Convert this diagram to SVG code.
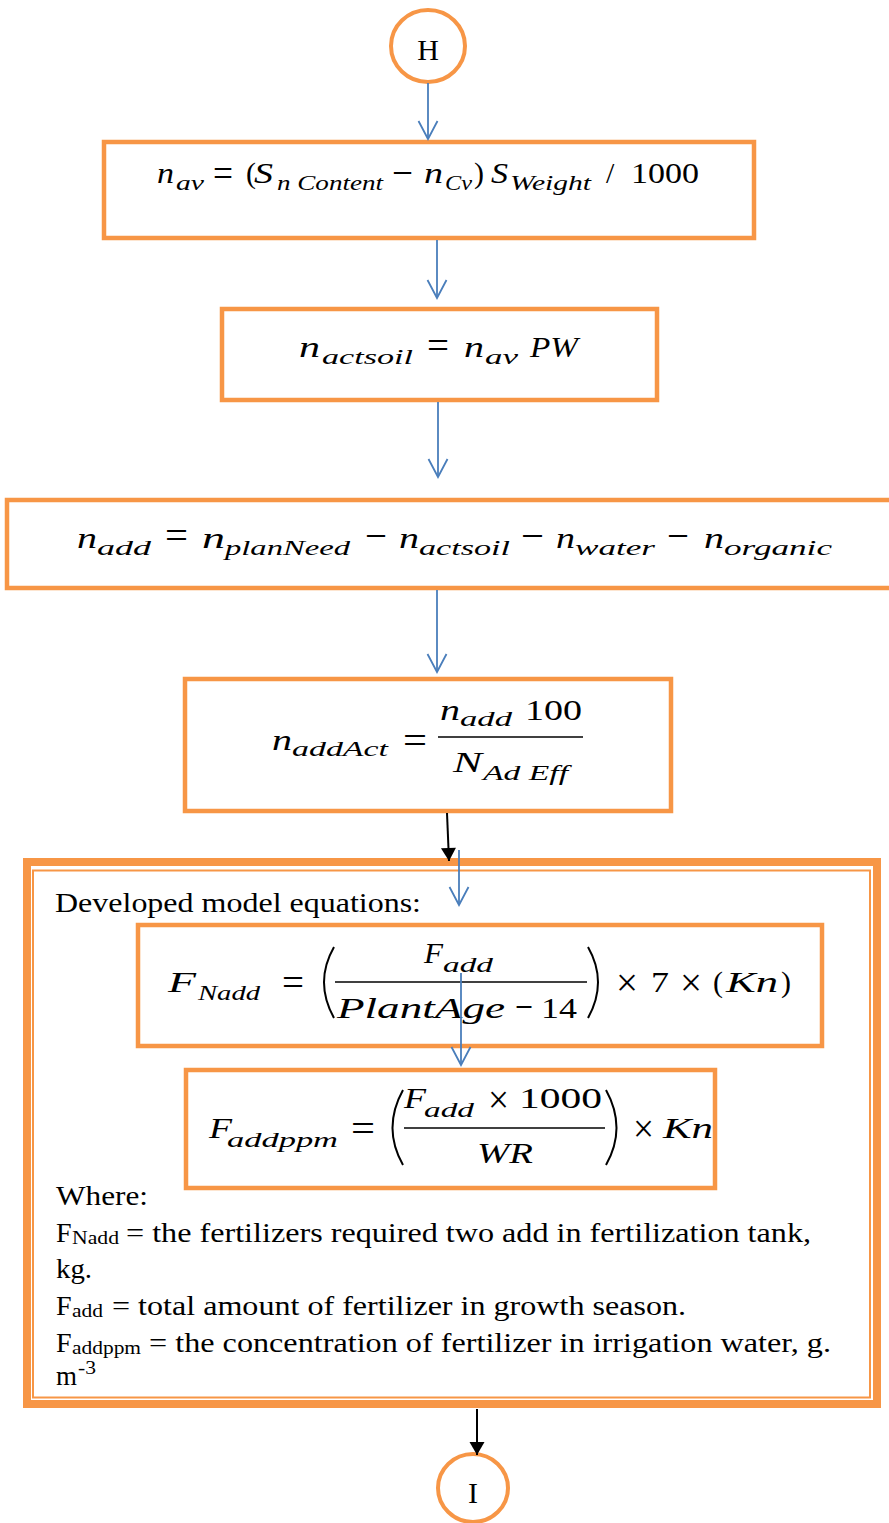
<svg xmlns="http://www.w3.org/2000/svg" width="889" height="1523" viewBox="0 0 889 1523">
  <style>
    .box { fill: #ffffff; stroke: #F79646; stroke-width: 4.5; }
    .term { fill: #ffffff; stroke: #F79646; stroke-width: 4; }
    .m { font-family: 'Liberation Serif', 'Times New Roman', Tinos, Times, serif; font-style: italic; font-size: 30px; fill: #000; }
    .ms { font-family: 'Liberation Serif', 'Times New Roman', Tinos, Times, serif; font-style: italic; font-size: 21px; fill: #000; }
    .u { font-family: 'Liberation Serif', 'Times New Roman', Tinos, Times, serif; font-size: 30px; fill: #000; }
    .op { font-family: 'Liberation Serif', 'Times New Roman', Tinos, Times, serif; font-size: 40px; fill: #000; }
    .t { font-family: 'Liberation Serif', 'Times New Roman', Tinos, Times, serif; font-size: 28px; fill: #000; }
    .ts { font-family: 'Liberation Serif', 'Times New Roman', Tinos, Times, serif; font-size: 18px; fill: #000; }
    .bar { stroke: #000; stroke-width: 1.5; fill: none; }
    .paren { stroke: #000; stroke-width: 2; fill: none; }
    .flow { stroke: #4A7EBB; stroke-width: 1.8; fill: none; marker-end: url(#open); }
    .link { stroke: #000; stroke-width: 2; fill: none; marker-end: url(#solid); }
  </style>
  <defs>
    <marker id="open" markerUnits="userSpaceOnUse" markerWidth="40" markerHeight="40" refX="0" refY="0" orient="auto" overflow="visible">
      <path d="M -18 -9.5 L 0 0 L -18 9.5" fill="none" stroke="#4A7EBB" stroke-width="1.8"/>
    </marker>
    <marker id="solid" markerUnits="userSpaceOnUse" markerWidth="40" markerHeight="40" refX="0" refY="0" orient="auto" overflow="visible">
      <path d="M -13 -7.5 L 0 0 L -13 7.5 Z" fill="#000"/>
    </marker>
  </defs>

  <!-- connector H -->
  <g id="node-H">
    <ellipse class="term" cx="428" cy="46" rx="37" ry="36"/>
    <text class="u" x="428" y="60" text-anchor="middle">H</text>
  </g>

  <!-- available nitrogen -->
  <g id="node-nav">
    <rect class="box" x="104" y="142" width="650" height="96"/>
    <text class="m" x="157" y="183" textLength="17" lengthAdjust="spacingAndGlyphs">n</text>
    <text class="ms" x="176" y="190" textLength="28" lengthAdjust="spacingAndGlyphs">av</text>
    <text class="op" x="213" y="187" textLength="20" lengthAdjust="spacingAndGlyphs">=</text>
    <text class="u" x="246" y="183">(</text>
    <text class="m" x="254" y="183" textLength="19" lengthAdjust="spacingAndGlyphs">S</text>
    <text class="ms" x="277" y="190" textLength="106" lengthAdjust="spacingAndGlyphs">n Content</text>
    <text class="op" x="392" y="186" textLength="21" lengthAdjust="spacingAndGlyphs">−</text>
    <text class="m" x="424" y="183" textLength="19" lengthAdjust="spacingAndGlyphs">n</text>
    <text class="ms" x="445" y="190" textLength="27" lengthAdjust="spacingAndGlyphs">Cv</text>
    <text class="u" x="474" y="183">)</text>
    <text class="m" x="491" y="183" textLength="17" lengthAdjust="spacingAndGlyphs">S</text>
    <text class="ms" x="510" y="190" textLength="81" lengthAdjust="spacingAndGlyphs">Weight</text>
    <text class="u" x="606" y="183">/</text>
    <text class="u" x="631" y="183" textLength="68" lengthAdjust="spacingAndGlyphs">1000</text>
  </g>

  <!-- actual soil nitrogen -->
  <g id="node-nactsoil">
    <rect class="box" x="222" y="309" width="435" height="91"/>
    <text class="m" x="299" y="357" textLength="21" lengthAdjust="spacingAndGlyphs">n</text>
    <text class="ms" x="322" y="364" textLength="91" lengthAdjust="spacingAndGlyphs">actsoil</text>
    <text class="op" x="427" y="359" textLength="22" lengthAdjust="spacingAndGlyphs">=</text>
    <text class="m" x="464" y="357" textLength="20" lengthAdjust="spacingAndGlyphs">n</text>
    <text class="ms" x="485" y="364" textLength="33" lengthAdjust="spacingAndGlyphs">av</text>
    <text class="m" x="530" y="357" textLength="48" lengthAdjust="spacingAndGlyphs">PW</text>
  </g>

  <!-- nitrogen to add -->
  <g id="node-nadd">
    <rect class="box" x="7" y="500" width="890" height="88"/>
    <text class="m" x="77" y="548" textLength="20" lengthAdjust="spacingAndGlyphs">n</text>
    <text class="ms" x="97" y="555" textLength="54" lengthAdjust="spacingAndGlyphs">add</text>
    <text class="op" x="165" y="549" textLength="23" lengthAdjust="spacingAndGlyphs">=</text>
    <text class="m" x="202" y="548" textLength="23" lengthAdjust="spacingAndGlyphs">n</text>
    <text class="ms" x="225" y="555" textLength="125" lengthAdjust="spacingAndGlyphs">planNeed</text>
    <text class="op" x="365" y="549" textLength="22" lengthAdjust="spacingAndGlyphs">−</text>
    <text class="m" x="399" y="548" textLength="20" lengthAdjust="spacingAndGlyphs">n</text>
    <text class="ms" x="419" y="555" textLength="91" lengthAdjust="spacingAndGlyphs">actsoil</text>
    <text class="op" x="521" y="549" textLength="23" lengthAdjust="spacingAndGlyphs">−</text>
    <text class="m" x="556" y="548" textLength="19" lengthAdjust="spacingAndGlyphs">n</text>
    <text class="ms" x="575" y="555" textLength="80" lengthAdjust="spacingAndGlyphs">water</text>
    <text class="op" x="667" y="549" textLength="22" lengthAdjust="spacingAndGlyphs">−</text>
    <text class="m" x="704" y="548" textLength="20" lengthAdjust="spacingAndGlyphs">n</text>
    <text class="ms" x="724" y="555" textLength="108" lengthAdjust="spacingAndGlyphs">organic</text>
  </g>

  <!-- actual nitrogen to add -->
  <g id="node-naddact">
    <rect class="box" x="185" y="679" width="486" height="132"/>
    <text class="m" x="272" y="750" textLength="20" lengthAdjust="spacingAndGlyphs">n</text>
    <text class="ms" x="292" y="756" textLength="96" lengthAdjust="spacingAndGlyphs">addAct</text>
    <text class="op" x="403" y="754" textLength="24" lengthAdjust="spacingAndGlyphs">=</text>
    <text class="m" x="440" y="720" textLength="20" lengthAdjust="spacingAndGlyphs">n</text>
    <text class="ms" x="460" y="726" textLength="52" lengthAdjust="spacingAndGlyphs">add</text>
    <text class="u" x="525" y="720" textLength="57" lengthAdjust="spacingAndGlyphs">100</text>
    <line class="bar" x1="438" y1="737" x2="583" y2="737"/>
    <text class="m" x="453" y="772" textLength="29" lengthAdjust="spacingAndGlyphs">N</text>
    <text class="ms" x="483" y="780" textLength="85" lengthAdjust="spacingAndGlyphs">Ad Eff</text>
  </g>

  <!-- developed model equations panel -->
  <g id="node-model">
    <rect x="27" y="862" width="850" height="542" fill="#ffffff" stroke="#F79646" stroke-width="8"/>
    <rect x="33" y="870.5" width="837" height="527" fill="none" stroke="#F79646" stroke-width="2"/>
    <text class="t" x="55" y="912" textLength="366" lengthAdjust="spacingAndGlyphs">Developed model equations:</text>

    <text class="t" x="56" y="1205" textLength="92" lengthAdjust="spacingAndGlyphs">Where:</text>
    <text class="t" x="56" y="1242">F</text>
    <text class="ts" x="72" y="1244" textLength="47" lengthAdjust="spacingAndGlyphs">Nadd</text>
    <text class="t" x="126" y="1242" textLength="685" lengthAdjust="spacingAndGlyphs">= the fertilizers required two add in fertilization tank,</text>
    <text class="t" x="56" y="1278" textLength="36" lengthAdjust="spacingAndGlyphs">kg.</text>
    <text class="t" x="56" y="1315">F</text>
    <text class="ts" x="72" y="1317" textLength="31" lengthAdjust="spacingAndGlyphs">add</text>
    <text class="t" x="112" y="1315" textLength="574" lengthAdjust="spacingAndGlyphs">= total amount of fertilizer in growth season.</text>
    <text class="t" x="56" y="1352">F</text>
    <text class="ts" x="72" y="1354" textLength="69" lengthAdjust="spacingAndGlyphs">addppm</text>
    <text class="t" x="149" y="1352" textLength="682" lengthAdjust="spacingAndGlyphs">= the concentration of fertilizer in irrigation water, g.</text>
    <text class="t" x="56" y="1385" textLength="21" lengthAdjust="spacingAndGlyphs">m</text>
    <text class="ts" x="78" y="1374" textLength="18" lengthAdjust="spacingAndGlyphs">-3</text>
  </g>

  <!-- fertilizer to add to tank -->
  <g id="node-fnadd">
    <rect class="box" x="138" y="925" width="684" height="121"/>
    <text class="m" x="168" y="992" textLength="28" lengthAdjust="spacingAndGlyphs">F</text>
    <text class="ms" x="198" y="1000" textLength="62" lengthAdjust="spacingAndGlyphs">Nadd</text>
    <text class="op" x="282" y="996" textLength="22" lengthAdjust="spacingAndGlyphs">=</text>
    <path class="paren" d="M 334 947 Q 314 982 334 1018"/>
    <text class="m" x="424" y="963" textLength="19" lengthAdjust="spacingAndGlyphs">F</text>
    <text class="ms" x="443" y="972" textLength="50" lengthAdjust="spacingAndGlyphs">add</text>
    <line class="bar" x1="335" y1="982" x2="587" y2="982"/>
    <text class="m" x="337" y="1018" textLength="168" lengthAdjust="spacingAndGlyphs">PlantAge</text>
    <text class="op" x="515" y="1020" textLength="18" lengthAdjust="spacingAndGlyphs">−</text>
    <text class="u" x="541" y="1018" textLength="36" lengthAdjust="spacingAndGlyphs">14</text>
    <path class="paren" d="M 588 947 Q 608 982 588 1018"/>
    <text class="op" x="616" y="996" textLength="22" lengthAdjust="spacingAndGlyphs">×</text>
    <text class="u" x="651" y="992" textLength="18" lengthAdjust="spacingAndGlyphs">7</text>
    <text class="op" x="680" y="996" textLength="22" lengthAdjust="spacingAndGlyphs">×</text>
    <text class="u" x="713" y="992">(</text>
    <text class="m" x="726" y="992" textLength="52" lengthAdjust="spacingAndGlyphs">Kn</text>
    <text class="u" x="781" y="992">)</text>
  </g>

  <!-- fertilizer concentration -->
  <g id="node-faddppm">
    <rect class="box" x="186" y="1070" width="529" height="118"/>
    <text class="m" x="209" y="1138" textLength="23" lengthAdjust="spacingAndGlyphs">F</text>
    <text class="ms" x="227" y="1147" textLength="111" lengthAdjust="spacingAndGlyphs">addppm</text>
    <text class="op" x="351" y="1142" textLength="24" lengthAdjust="spacingAndGlyphs">=</text>
    <path class="paren" d="M 403 1090 Q 382 1128 403 1165"/>
    <text class="m" x="404" y="1108" textLength="22" lengthAdjust="spacingAndGlyphs">F</text>
    <text class="ms" x="424" y="1117" textLength="50" lengthAdjust="spacingAndGlyphs">add</text>
    <text class="op" x="488" y="1113" textLength="21" lengthAdjust="spacingAndGlyphs">×</text>
    <text class="u" x="519" y="1108" textLength="83" lengthAdjust="spacingAndGlyphs">1000</text>
    <line class="bar" x1="404" y1="1128" x2="605" y2="1128"/>
    <text class="m" x="477" y="1163" textLength="56" lengthAdjust="spacingAndGlyphs">WR</text>
    <path class="paren" d="M 606 1090 Q 627 1128 606 1165"/>
    <text class="op" x="633" y="1142" textLength="21" lengthAdjust="spacingAndGlyphs">×</text>
    <text class="m" x="663" y="1138" textLength="50" lengthAdjust="spacingAndGlyphs">Kn</text>
  </g>

  <!-- connector I -->
  <g id="node-I">
    <ellipse class="term" cx="473" cy="1488" rx="35" ry="34"/>
    <text class="u" x="473" y="1503" text-anchor="middle">I</text>
  </g>

  <g id="connectors">
    <line class="flow" x1="428" y1="83" x2="428" y2="139"/>
    <line class="flow" x1="437" y1="240" x2="437" y2="298"/>
    <line class="flow" x1="438" y1="402" x2="438" y2="477"/>
    <line class="flow" x1="437" y1="590" x2="437" y2="672"/>
    <line class="link" x1="447" y1="813" x2="449" y2="861"/>
    <line class="flow" x1="459" y1="850" x2="459" y2="905"/>
    <line class="flow" x1="461" y1="973" x2="461" y2="1065"/>
    <line class="link" x1="477" y1="1409" x2="477" y2="1455"/>
  </g>
</svg>
